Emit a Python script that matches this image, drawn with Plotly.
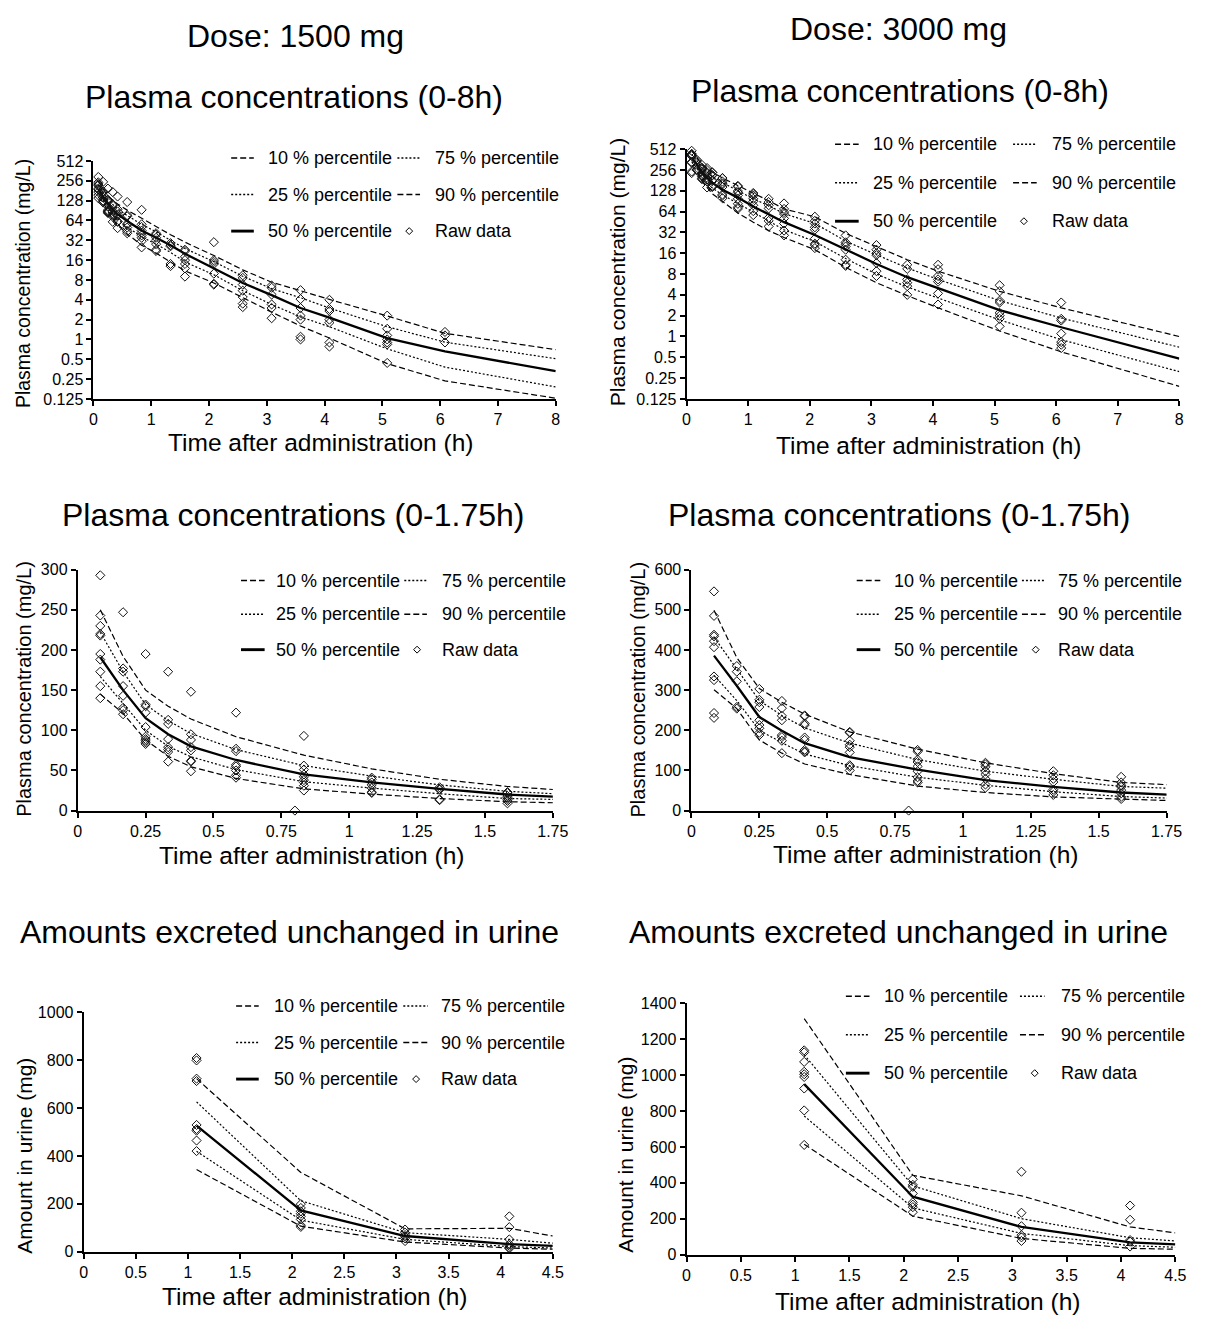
import plotly.graph_objects as go
import numpy as np

# ---------------------------------------------------------------------------
# Simulated percentiles and observed data
# ---------------------------------------------------------------------------
# plasma: time points of the simulated percentile curves (h)
t_plasma = [0.083, 0.167, 0.25, 0.333, 0.417, 0.583, 0.833, 1.083, 1.333,
            1.583, 2.083, 2.583, 3.083, 3.583, 4.083, 5.083, 6.083, 8.0]

# 1500 mg, plasma concentration percentiles (mg/L)
p10_1500 = [145, 121, 88, 67.5, 54.5, 40, 27, 20.5, 15, 11, 7.2, 4.3, 2.6, 1.6, 1.05, 0.43, 0.235, 0.128]
p25_1500 = [167, 133, 100, 80, 67, 51, 36, 28, 21, 15, 9.6, 5.5, 3.4, 2.2, 1.56, 0.72, 0.38, 0.19]
p50_1500 = [191, 150, 115, 95, 80, 63, 45, 35, 27, 20, 12.1, 7.2, 4.7, 3.0, 2.15, 1.05, 0.66, 0.33]
p75_1500 = [222, 173, 132, 112, 96, 76, 56, 43, 32, 24, 15.2, 9.1, 5.9, 4.3, 3.0, 1.56, 0.91, 0.51]
p90_1500 = [250, 192, 150, 130, 114, 92, 69, 52, 39, 30, 18.8, 11.4, 7.4, 5.5, 4.05, 2.27, 1.24, 0.70]

# 3000 mg, plasma concentration percentiles (mg/L)
p10_3000 = [301, 254, 176, 143, 116, 90, 61, 45, 34, 27, 18, 10, 6.0, 3.9, 2.6, 1.2, 0.6, 0.19]
p25_3000 = [337, 274, 200, 169, 141, 112, 83, 63, 47, 35, 23.6, 13.4, 8.0, 5.2, 3.6, 1.74, 0.9, 0.31]
p50_3000 = [386, 311, 233, 199, 168, 133, 102, 76, 59, 45, 29.4, 18, 11.2, 7.2, 5.0, 2.4, 1.36, 0.48]
p75_3000 = [432, 352, 274, 237, 206, 168, 127, 98, 78, 60, 43, 24, 15.2, 9.8, 6.7, 3.3, 1.85, 0.7]
p90_3000 = [499, 381, 304, 270, 240, 196, 153, 119, 92, 70, 53.9, 31, 20, 12.9, 8.8, 4.5, 2.6, 1.0]

# observed plasma concentrations: sampling times and values per time (mg/L)
t_raw_plasma = [0.083, 0.167, 0.25, 0.333, 0.417, 0.583, 0.80, 0.833, 1.083,
                1.333, 1.583, 2.083, 2.583, 3.083, 3.583, 4.083, 5.083, 6.083, 8.083]

raw_plasma_1500 = [
    [293, 243, 230, 220, 218, 195, 188, 173, 155, 140],
    [247, 177, 173, 155, 143, 128, 125, 120],
    [195, 132, 130, 122, 104, 92, 89, 87, 85, 83],
    [173, 113, 108, 89, 79, 76, 73, 61],
    [148, 95, 88, 79, 75, 62, 61, 49],
    [122, 77, 74, 57, 55, 50, 44, 41],
    [0],
    [93, 56, 51, 45, 42, 38, 35, 31, 25],
    [41, 39, 35, 32, 28, 23, 22],
    [29, 27, 26, 14, 13],
    [23, 22, 18, 16, 14, 12, 9],
    [30, 16, 15, 14, 10, 7.0, 6.8],
    [9.4, 8.6, 6.8, 5.5, 4.4, 3.5, 3.1],
    [6.6, 6.1, 4.8, 3.4, 3.0, 2.1],
    [5.6, 4.1, 3.0, 2.3, 2.0, 1.1, 1.0],
    [4.0, 2.9, 2.7, 2.0, 1.8, 0.9, 0.78],
    [2.3, 1.45, 1.15, 1.0, 0.9, 0.84, 0.44],
    [1.3, 1.15, 0.9],
    [0.85],
]

raw_plasma_3000 = [
    [546, 485, 438, 434, 422, 407, 334, 325, 243, 231],
    [360, 346, 322, 258, 254],
    [303, 276, 270, 258, 225, 213, 205, 194, 188],
    [273, 255, 236, 225, 188, 183, 174, 143],
    [237, 235, 217, 213, 182, 176, 151, 147, 145],
    [196, 194, 174, 164, 158, 145, 113, 109, 100],
    [0],
    [151, 147, 127, 121, 110, 98, 83, 74, 70],
    [119, 115, 109, 98, 90, 79, 65, 57],
    [98, 88, 79, 71, 52, 47, 39],
    [84, 70, 63, 59, 51, 43, 34, 29],
    [54, 47, 43, 38, 35, 26, 22, 21, 19],
    [29, 23, 21.6, 20, 18, 12.9, 10.9, 10.5],
    [21, 18, 16, 15, 11.5, 8.8, 7.5],
    [10.9, 9.5, 6.7, 6.0, 5.35, 4.0],
    [10.9, 9.4, 7.5, 6.7, 6.2, 4.2, 2.9],
    [5.5, 4.5, 3.3, 3.1, 2.2, 2.0, 1.8, 1.4],
    [3.1, 1.8, 1.7, 1.1, 0.83, 0.76, 0.68],
    [0.6, 0.55],
]

# urine: amounts excreted unchanged per collection interval (mg)
t_urine = [1.083, 2.083, 3.083, 4.083, 4.5]
u10_1500 = [343, 107, 41, 16, 11]
u25_1500 = [419, 132, 52, 22, 16]
u50_1500 = [526, 173, 66, 32, 25]
u75_1500 = [625, 213, 80, 52, 36]
u90_1500 = [722, 331, 96, 98, 66]

u10_3000 = [615, 215, 91, 36, 31]
u25_3000 = [772, 261, 119, 51, 42]
u50_3000 = [949, 323, 155, 69, 58]
u75_3000 = [1113, 383, 201, 95, 77]
u90_3000 = [1314, 442, 328, 155, 122]

t_raw_urine = [1.083, 2.083, 3.083, 4.083]
raw_urine_1500 = [
    [808, 798, 722, 712, 529, 512, 505, 464, 420],
    [199, 183, 169, 159, 148, 135, 111, 104],
    [93, 80, 70, 63, 56, 45],
    [148, 103, 52, 32, 25, 18, 14],
]
raw_urine_3000 = [
    [1137, 1126, 1073, 1018, 1004, 989, 925, 803, 611],
    [420, 389, 378, 341, 292, 279, 265, 237],
    [462, 234, 159, 109, 97, 77],
    [274, 195, 82, 73, 46],
]

# tick labels
log_ticks = [0.125, 0.25, 0.5, 1, 2, 4, 8, 16, 32, 64, 128, 256, 512]
log_tick_text = ["0.125", "0.25", "0.5", "1", "2", "4", "8", "16", "32", "64", "128", "256", "512"]

legend_labels = ["10 % percentile", "75 % percentile",
                 "25 % percentile", "90 % percentile",
                 "50 % percentile", "Raw data"]

# ---------------------------------------------------------------------------
# Layout helpers (pixel -> paper)
# ---------------------------------------------------------------------------
W, H = 1213, 1326
FONT = "Liberation Sans, Arial, Helvetica, sans-serif"


def px(x):
    return x / W


def py(y):
    return 1 - y / H


def flatten(times, groups, tmax=None):
    xs, ys = [], []
    for t, vals in zip(times, groups):
        if tmax is not None and t > tmax:
            continue
        for v in vals:
            xs.append(t)
            ys.append(v)
    return xs, ys


DASH = "6px,3px"
DOT = "2px,2px"
line_styles = {
    "p10": dict(color="black", width=1.2, dash=DASH),
    "p25": dict(color="black", width=1.2, dash=DOT),
    "p50": dict(color="black", width=2.3),
    "p75": dict(color="black", width=1.2, dash=DOT),
    "p90": dict(color="black", width=1.2, dash=DASH),
}

panels = [
    dict(n=1, box=(91, 561, 155, 396), t=t_plasma,
         curves=dict(p10=p10_1500, p25=p25_1500, p50=p50_1500, p75=p75_1500, p90=p90_1500),
         raw=(t_raw_plasma, raw_plasma_1500, None), log=True, xr=[0, 8], xd=1,
         ytitle="Plasma concentration (mg/L)", ytx=20, yty=279, ytsize=19.5,
         xtitle_y=440, leg_rows=(152, 189, 226), leg_c1=(231, 254, 266), leg_c2=(400, 423, 436), dia=412),
    dict(n=2, box=(694, 1195, 143, 396), t=t_plasma,
         curves=dict(p10=p10_3000, p25=p25_3000, p50=p50_3000, p75=p75_3000, p90=p90_3000),
         raw=(t_raw_plasma, raw_plasma_3000, None), log=True, xr=[0, 8], xd=1,
         ytitle="Plasma concentration (mg/L)", ytx=624, yty=268, ytsize=21,
         xtitle_y=443, leg_rows=(138, 177, 216), leg_c1=(845, 869, 882), leg_c2=(1026, 1050, 1064), dia=1037),
    dict(n=3, box=(75, 558, 569, 813), t=t_plasma,
         curves=dict(p10=p10_1500, p25=p25_1500, p50=p50_1500, p75=p75_1500, p90=p90_1500),
         raw=(t_raw_plasma, raw_plasma_1500, 1.75), log=False, xr=[0, 1.75], xd=0.25,
         yr=[0, 300], yd=50,
         ytitle="Plasma concentration (mg/L)", ytx=20, yty=690, ytsize=20,
         xtitle_y=858, leg_rows=(580, 614, 650), leg_c1=(241, 265, 275), leg_c2=(407, 430, 443), dia=420),
    dict(n=4, box=(699, 1182, 569, 813), t=t_plasma,
         curves=dict(p10=p10_3000, p25=p25_3000, p50=p50_3000, p75=p75_3000, p90=p90_3000),
         raw=(t_raw_plasma, raw_plasma_3000, 1.75), log=False, xr=[0, 1.75], xd=0.25,
         yr=[0, 600], yd=100,
         ytitle="Plasma concentration (mg/L)", ytx=645, yty=690, ytsize=20,
         xtitle_y=857, leg_rows=(580, 614, 650), leg_c1=(867, 891, 903), leg_c2=(1035, 1059, 1070), dia=1049),
    dict(n=5, box=(81, 558, 1017, 1260), t=t_urine,
         curves=dict(p10=u10_1500, p25=u25_1500, p50=u50_1500, p75=u75_1500, p90=u90_1500),
         raw=(t_raw_urine, raw_urine_1500, None), log=False, xr=[0, 4.5], xd=0.5,
         yr=[0, 1000], yd=200,
         ytitle="Amount in urine (mg)", ytx=20, yty=1163, ytsize=21,
         xtitle_y=1305, leg_rows=(1011, 1048, 1085), leg_c1=(236, 259, 272), leg_c2=(406, 431, 442), dia=419),
    dict(n=6, box=(694, 1191, 1008, 1263), t=t_urine,
         curves=dict(p10=u10_3000, p25=u25_3000, p50=u50_3000, p75=u75_3000, p90=u90_3000),
         raw=(t_raw_urine, raw_urine_3000, None), log=False, xr=[0, 4.5], xd=0.5,
         yr=[0, 1400], yd=200,
         ytitle="Amount in urine (mg)", ytx=632, yty=1162, ytsize=21,
         xtitle_y=1310, leg_rows=(1001, 1040, 1079), leg_c1=(856, 880, 893), leg_c2=(1033, 1058, 1073), dia=1048),
]

fig = go.Figure()
annotations = []
shapes = []

axis_common = dict(showline=True, linecolor="black", linewidth=2, showgrid=False,
                   zeroline=False, ticks="outside", ticklen=5, tickwidth=1.5,
                   tickcolor="black", tickfont=dict(family=FONT, size=16, color="black"))

for p in panels:
    n = p["n"]
    xa = "x" if n == 1 else f"x{n}"
    ya = "y" if n == 1 else f"y{n}"
    x0, x1, ytop, ybot = p["box"]

    # percentile curves
    for key in ["p10", "p25", "p75", "p90", "p50"]:
        fig.add_trace(go.Scatter(x=p["t"], y=p["curves"][key], mode="lines",
                                 line=line_styles[key], xaxis=xa, yaxis=ya,
                                 showlegend=False, hoverinfo="skip"))
    # observed data
    rt, rv, tmax = p["raw"]
    xs, ys = flatten(rt, rv, tmax)
    fig.add_trace(go.Scatter(x=xs, y=ys, mode="markers", cliponaxis=False,
                             marker=dict(symbol="diamond-open", size=7, color="#111",
                                         line=dict(width=1, color="#111")),
                             xaxis=xa, yaxis=ya, showlegend=False))

    xkey = "xaxis" if n == 1 else f"xaxis{n}"
    ykey = "yaxis" if n == 1 else f"yaxis{n}"
    xaxis = dict(axis_common, domain=[px(x0), px(x1)], range=p["xr"], dtick=p["xd"],
                 tick0=0, anchor=ya)
    if p["log"]:
        yaxis = dict(axis_common, domain=[py(ybot), py(ytop)], type="log",
                     range=[np.log10(0.125), np.log10(512)],
                     tickvals=log_ticks, ticktext=log_tick_text, anchor=xa)
    else:
        yaxis = dict(axis_common, domain=[py(ybot), py(ytop)], range=p["yr"],
                     dtick=p["yd"], tick0=0, anchor=xa)
    fig.update_layout({xkey: xaxis, ykey: yaxis})

    # axis titles
    annotations.append(dict(text="Time after administration (h)", x=px((x0 + x1) / 2 - 4),
                            y=py(p["xtitle_y"]), xref="paper", yref="paper",
                            xanchor="center", yanchor="middle", showarrow=False,
                            font=dict(family=FONT, size=24.5, color="black")))
    annotations.append(dict(text=p["ytitle"], x=px(p["ytx"]), y=py(p["yty"]),
                            xref="paper", yref="paper", textangle=-90,
                            xanchor="center", yanchor="middle", showarrow=False,
                            font=dict(family=FONT, size=p["ytsize"], color="black")))

    # legend block: two columns, three rows
    rows = p["leg_rows"]
    c1, c2 = p["leg_c1"], p["leg_c2"]
    samples = [(c1, rows[0], "p10", legend_labels[0]),
               (c2, rows[0], "p75", legend_labels[1]),
               (c1, rows[1], "p25", legend_labels[2]),
               (c2, rows[1], "p90", legend_labels[3]),
               (c1, rows[2], "p50", legend_labels[4])]
    for (sx0, sx1, tx), ry, key, label in samples:
        st = line_styles[key]
        shapes.append(dict(type="line", xref="paper", yref="paper",
                           x0=px(sx0), x1=px(sx1), y0=py(ry), y1=py(ry),
                           line=dict(color="black", width=st["width"] + (0.6 if key == "p50" else 0.3),
                                     dash=st.get("dash", "solid"))))
        annotations.append(dict(text=label, x=px(tx), y=py(ry), xref="paper", yref="paper",
                                xanchor="left", yanchor="middle", showarrow=False,
                                font=dict(family=FONT, size=18, color="black")))
    d = p["dia"]
    ry = rows[2]
    r = 3.5
    path = (f"M {px(d)},{py(ry - r)} L {px(d + r)},{py(ry)} "
            f"L {px(d)},{py(ry + r)} L {px(d - r)},{py(ry)} Z")
    shapes.append(dict(type="path", xref="paper", yref="paper", path=path,
                       line=dict(color="black", width=1)))
    annotations.append(dict(text=legend_labels[5], x=px(c2[2]), y=py(ry), xref="paper",
                            yref="paper", xanchor="left", yanchor="middle", showarrow=False,
                            font=dict(family=FONT, size=18, color="black")))

# panel headings
headings = [
    ("Dose: 1500 mg", 296, 28),
    ("Dose: 3000 mg", 910, 21),
    ("Plasma concentrations (0-8h)", 295, 90),
    ("Plasma concentrations (0-8h)", 911, 84),
    ("Plasma concentrations (0-1.75h)", 294, 514),
    ("Plasma concentrations (0-1.75h)", 910, 514),
    ("Amounts excreted unchanged in urine", 290, 936),
    ("Amounts excreted unchanged in urine", 910, 936),
]
for text, hx, hy in headings:
    annotations.append(dict(text=text, x=px(hx), y=py(hy), xref="paper", yref="paper",
                            xanchor="center", yanchor="middle", showarrow=False,
                            font=dict(family=FONT, size=32, color="black")))

fig.update_layout(width=W, height=H, margin=dict(l=0, r=0, t=0, b=0),
                  paper_bgcolor="white", plot_bgcolor="white",
                  showlegend=False, annotations=annotations, shapes=shapes,
                  font=dict(family=FONT, color="black"))

fig.write_html("out.html")
